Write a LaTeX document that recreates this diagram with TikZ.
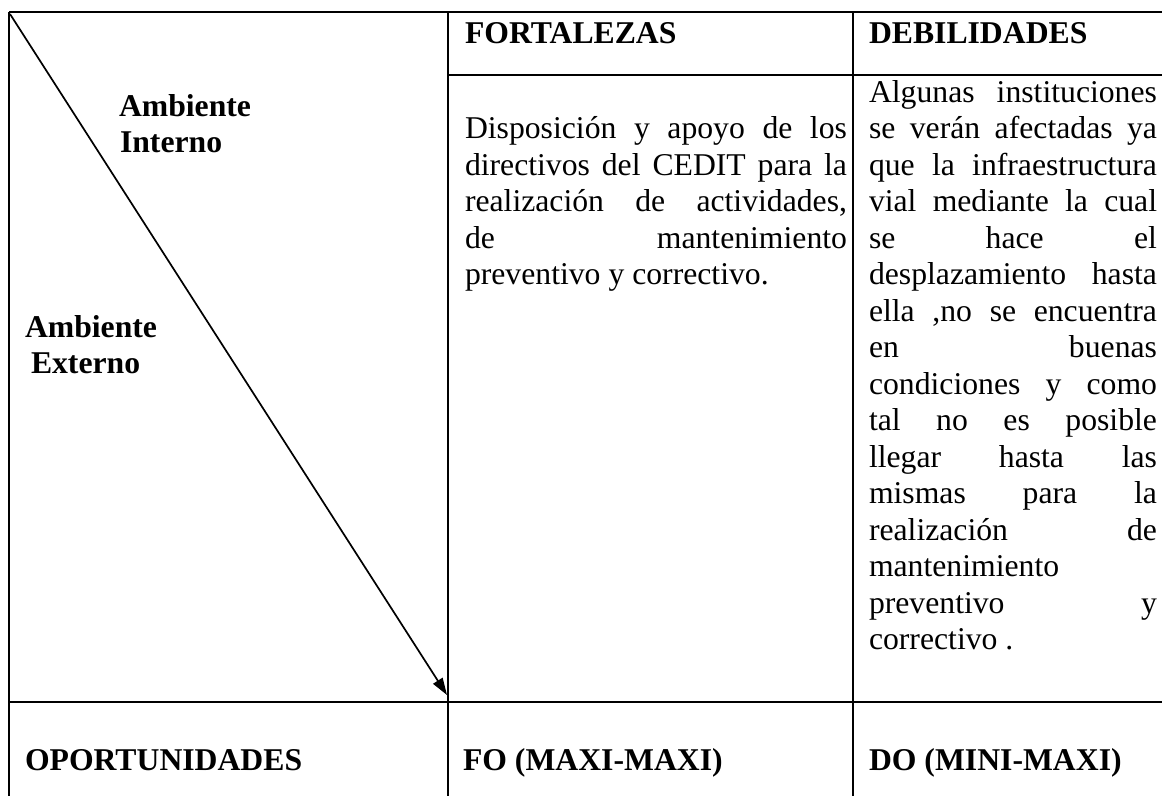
\documentclass[tikz,border=0pt]{standalone}
\usepackage{fontspec}
\setmainfont{Liberation Serif}
\usetikzlibrary{arrows.meta}
\newcommand\jline[1]{\makebox[\linewidth][s]{#1}\par}
\newcommand\lline[1]{\makebox[\linewidth][l]{#1}\par}
\begin{document}
\begin{tikzpicture}[x=1pt,y=-1pt,
  rule/.style={line width=1.4pt,black},
  txt/.style={inner sep=0pt,outer sep=0pt,anchor=base west,font=\fontsize{31.7pt}{36.5pt}\selectfont},
  head/.style={txt,font=\fontsize{31.7pt}{36.5pt}\selectfont\bfseries},
  diag/.style={line width=1.7pt,-{Triangle[length=17pt,width=11pt]}}]
\useasboundingbox (0,0) rectangle (1162,796);
% table rules
\draw[rule] (9,12) -- (1162,12);
\draw[rule] (9,12) -- (9,796);
\draw[rule] (448,12) -- (448,796);
\draw[rule] (853,12) -- (853,796);
\draw[rule] (448,75) -- (1162,75);
\draw[rule] (9,702) -- (1162,702);
% diagonal arrow
\coordinate (dstart) at (10,14);
\coordinate (dend) at (447,695);
\draw[diag] (dstart) -- (dend);
% headers
\node[head] (fort) at (465,43) {FORTALEZAS};
\node[head] (deb) at (869,43) {DEBILIDADES};
\node[head] (ai1) at (119,116) {Ambiente};
\node[head] (ai2) at (120,152) {Interno};
\node[head] (ae1) at (25,337) {Ambiente};
\node[head] (ae2) at (31,373) {Externo};
\node[head] (opo) at (25,770) {OPORTUNIDADES};
\node[head] (fo) at (463,770) {FO (MAXI-MAXI)};
\node[head] (do) at (869,770) {DO (MINI-MAXI)};
% body texts
\node[txt] (fbody) at (465,138.5) {\parbox[t]{382pt}{\fontsize{31.7pt}{36.5pt}\selectfont\parindent=0pt
\jline{Disposición y apoyo de los}
\jline{directivos del CEDIT para la}
\jline{realización de actividades,}
\jline{de mantenimiento}
\lline{preventivo y correctivo.}}};
\node[txt] (dbody) at (869,102) {\parbox[t]{288pt}{\fontsize{31.7pt}{36.5pt}\selectfont\parindent=0pt
\jline{Algunas instituciones}
\jline{se verán afectadas ya}
\jline{que la infraestructura}
\jline{vial mediante la cual}
\jline{se hace el}
\jline{desplazamiento hasta}
\jline{ella ,no se encuentra}
\jline{en buenas}
\jline{condiciones y como}
\jline{tal no es posible}
\jline{llegar hasta las}
\jline{mismas para la}
\jline{realización de}
\lline{mantenimiento}
\jline{preventivo y}
\lline{correctivo .}}};
\end{tikzpicture}
\end{document}
